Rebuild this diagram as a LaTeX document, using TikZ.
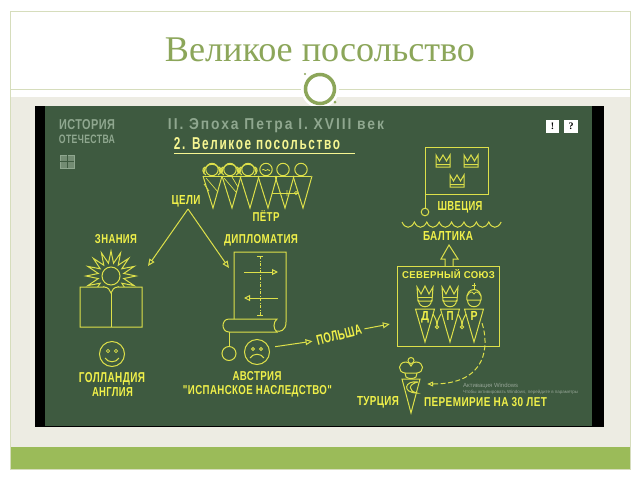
\documentclass[tikz,border=0pt]{standalone}
\usepackage{fontspec}
\usepackage{graphicx}
\setmainfont{Liberation Serif}
\setsansfont{Liberation Sans}
\newfontfamily\lblfont{Liberation Sans}[LetterSpace=4]
\newfontfamily\wideft{Liberation Sans}[LetterSpace=14]
\definecolor{board}{HTML}{3E5A40}
\definecolor{chalk}{HTML}{DDE04A}
\definecolor{txtyel}{HTML}{F0F04A}
\definecolor{txtgray}{HTML}{8FA78F}
\definecolor{olive}{HTML}{8CA65A}
\definecolor{barc}{HTML}{9BBB59}
\definecolor{beige}{HTML}{EDECE3}
\definecolor{framec}{HTML}{D6DDBC}
\newcommand{\fit}[3]{\resizebox{#1pt}{#2pt}{\lblfont\bfseries #3}}
\newcommand{\fitw}[3]{\resizebox{#1pt}{#2pt}{\wideft\bfseries #3}}
\usetikzlibrary{arrows.meta}
\tikzset{
 x=1pt,y=-1pt,
 ln/.style={draw=chalk,line width=1pt},
 lb/.style={inner sep=0pt,text=txtyel},
 gr/.style={inner sep=0pt,text=txtgray},
 tip/.style={-{Triangle[open,length=7pt,width=6pt]},ln},
 crownp/.pic={\draw[ln] (-7,6)--(-7,-6)--(-3.5,0)--(0,-6)--(3.5,0)--(7,-6)--(7,6)--cycle (-7,3.5)--(7,3.5);},
 wig/.pic={\draw[ln] (-8,-2) .. controls (-9,-15) and (9,-15) .. (8,-2) (-6,-1) .. controls (-10,-3) and (-10,-8) .. (-7,-9) (6,-1) .. controls (10,-3) and (10,-8) .. (7,-9);},
}
\begin{document}
\begin{tikzpicture}
\useasboundingbox (0,0) rectangle (640,480);
\fill[white] (0,0) rectangle (640,480);
\fill[beige] (10,97) rectangle (630,447);
\fill[barc] (10,447) rectangle (630,469);
\draw[framec,line width=0.9pt] (10,11) rectangle (630,469);
\draw[framec,line width=0.9pt] (10,89)--(630,89);
\fill[white] (320,89) circle[radius=19];
\draw[olive,line width=3.5pt] (320,89) circle[radius=14.5];
\fill[olive] (305,74) circle[radius=1.2] (335,102) circle[radius=1.5];
\node[text=olive,inner sep=0pt] (title) at (320,50) {\resizebox{310pt}{!}{\fontsize{33}{36}\selectfont Великое посольство}};
% picture
\fill[black] (35,106) rectangle (604,427);
\fill[board] (45,106) rectangle (592,426);
\node[gr] (hist) at (87,124.5) {\fit{56}{10}{ИСТОРИЯ}};
\node[gr] (otech) at (87,139.5) {\fit{56}{8.5}{ОТЕЧЕСТВА}};
\draw[txtgray,fill=txtgray!65!board,line width=0.5pt] (60,155) rectangle (74,168);
\draw[board,line width=0.7pt] (67,155)--(67,168) (60,161.5)--(74,161.5);
\node[gr] (ep) at (276,125.5) {\fitw{216}{11}{II. Эпоха Петра I. XVIII век}};
\node[inner sep=0pt,text=txtyel!60!white] (vp) at (257,144) {\fitw{166}{12}{2. Великое посольство}};
\draw[txtyel!60!white,line width=1.1pt] (174,153.5)--(355,153.5);
\node[fill=white,text=black,inner sep=0pt,minimum width=13pt,minimum height=13pt,font=\bfseries] (ex) at (552.5,126.5) {!};
\node[fill=white,text=black,inner sep=0pt,minimum width=14pt,minimum height=13pt,font=\bfseries] (qu) at (571,126.5) {?};
% Peter's embassy
\draw[ln] (203,176)--(311,176);
\foreach \xh/\xa in {212/213,230/232,248/250,266/268,283/285,301/303}{
 \draw[ln] (\xh,169.5) circle[radius=6.2];
 \draw[ln] (\xa-10,176)--(\xa,208)--(\xa+9,176);
}
\foreach \xh in {212,230,248}{\pic at (\xh,176) {wig};}
\draw[ln,line width=0.7pt] (206,178)--(218,192) (204,184)--(209,191) (224,178)--(236,192) (232,177)--(238,187);
\draw[ln,line width=0.7pt] (262,170) .. controls (264,168) and (265,172) .. (267,170) .. controls (268,168) and (269,172) .. (270,170);
\draw[ln,line width=0.7pt] (272,193)--(298,193);
\draw[ln,line width=0.7pt] (296,193) circle[radius=1.6] (287,190)--(287,196);
\node[lb] (petr) at (266,216) {\fit{27}{11}{ПЁТР}};
\node[lb] (celi) at (186,201.5) {\fit{29}{9}{ЦЕЛИ}};
\coordinate (gs) at (188,209);
\node[lb] (zn) at (116,239.5) {\fit{42}{9}{ЗНАНИЯ}};
\node[lb] (dp) at (261,240.5) {\fit{74}{9}{ДИПЛОМАТИЯ}};
\coordinate (gl) at (148,266);
\coordinate (gr0) at (229,268);
\draw[tip] (gs)--(gl);
\draw[tip] (gs)--(gr0);
% sun and book
\draw[ln] (111,276) circle[radius=9];
\draw[ln] (86,276)
 foreach \a in {0,...,15}{ -- ({111+25*cos(180+\a*22.5)},{276+25*sin(180+\a*22.5)}) -- ({111+13*cos(180+\a*22.5+11.25)},{276+13*sin(180+\a*22.5+11.25)}) } -- cycle;
\fill[board] (70,287) rectangle (150,330);
\draw[ln,fill=board] (80,327)--(80,287)--(104,287) .. controls (108,287) and (110,290) .. (111,293) .. controls (112,290) and (114,287) .. (118,287)--(142,287)--(142,327)--cycle;
\draw[ln] (111,293)--(111,327);
\draw[ln] (112,354) circle[radius=12.5];
\draw[ln,line width=0.8pt] (108,351) circle[radius=1.6] (116,351) circle[radius=1.6];
\draw[ln] (105,358) .. controls (108,363) and (116,363) .. (119,358);
\node[lb] (nl) at (112,378.5) {\fit{66}{10}{ГОЛЛАНДИЯ}};
\node[lb] (en) at (112.5,392.5) {\fit{41}{9}{АНГЛИЯ}};
% scroll
\draw[ln] (234,319)--(234,252)--(286,252)--(286,322) .. controls (286,331) and (280,332) .. (276,331);
\draw[ln] (229,319)--(277,319) .. controls (273,322) and (273,329) .. (277,332)--(229,332) .. controls (221,332) and (221,319) .. (229,319);
\draw[ln] (229,332)--(229,347);
\draw[ln] (229,353.5) circle[radius=7];
\draw[ln,dash pattern=on 3pt off 1.5pt on 1pt off 1.5pt] (260,256)--(260,315);
\draw[ln] (257,256)--(263,256) (257,315)--(263,315);
\draw[-{Triangle[open,length=6pt,width=6pt]},ln] (244,272)--(278,272);
\draw[-{Triangle[open,length=6pt,width=6pt]},ln] (278,298)--(244,298);
\node[draw=chalk,line width=1pt,circle,minimum size=25pt,inner sep=0pt] (sad) at (257,352) {};
\draw[ln,line width=0.8pt] (253,349) circle[radius=1.5] (261,349) circle[radius=1.5];
\draw[ln] (250,358) .. controls (253,353) and (261,353) .. (264,358);
\node[lb] (av) at (257,376) {\fit{49}{9}{АВСТРИЯ}};
\node[lb] (isp) at (257.5,391) {\fit{149}{9}{"ИСПАНСКОЕ НАСЛЕДСТВО"}};
\node[lb,rotate=14] (pol) at (339,335) {\fit{46}{10}{ПОЛЬША}};
\draw[tip,shorten >=4pt,shorten <=6pt] (sad.20)--(pol.west);
% sweden
\node[draw=chalk,line width=1pt,minimum width=63pt,minimum height=47pt,inner sep=0pt] (flag) at (456.5,170.5) {};
\draw[ln] (425,194)--(425,208);
\draw[ln] (425,212) circle[radius=3.8];
\pic at (443,161) {crownp};
\pic at (471,161) {crownp};
\pic at (457,181) {crownp};
\node[lb] (sw) at (460,207) {\fit{45}{9}{ШВЕЦИЯ}};
\draw[ln] (402,222)
 foreach \i in {0,...,7}{ .. controls ({402+\i*12.4+3},{229}) and ({402+\i*12.4+9},{229}) .. ({402+(\i+1)*12.4},{222}) };
\node[lb] (bal) at (448,236.5) {\fit{50}{9}{БАЛТИКА}};
\node[draw=chalk,line width=1pt,minimum width=102pt,minimum height=80pt,inner sep=0pt] (sev) at (448,306) {};
\draw[ln] (445,266)--(445,259)--(441,259)--(449,245)--(458,259)--(453,259)--(453,266);
\node[lb] (st) at (448.5,274.5) {\fit{93}{9}{СЕВЕРНЫЙ СОЮЗ}};
\foreach \x in {425,450,474}{
 \draw[ln] (\x-9.5,309)--(\x+9.5,309)--(\x,342)--cycle;
 \draw[ln] (\x-6.5,300) .. controls (\x-6.5,309) and (\x+6.5,309) .. (\x+6.5,300);
}
\foreach \x in {425,450}{
 \draw[ln] (\x-7,301)--(\x-8,287)--(\x-4,294)--(\x,286)--(\x+4,294)--(\x+8,287)--(\x+7,301)--cycle;
 \draw[ln,line width=0.8pt] (\x-7.3,297.5)--(\x+7.3,297.5);
}
\draw[ln] (467,300) .. controls (465,286) and (483,286) .. (481,300)--cycle;
\draw[ln,line width=0.8pt] (467,296) .. controls (470,291) and (472,291) .. (474,294) .. controls (476,291) and (478,291) .. (481,296);
\draw[ln] (474,283)--(474,290) (472,285.5)--(476,285.5);
\node[lb,anchor=base] (dk) at (425,320) {\fit{8}{9}{Д}};
\node[lb,anchor=base] (pl) at (450,320) {\fit{7}{9}{П}};
\node[lb,anchor=base] (ru) at (474,320) {\fit{7}{9}{Р}};
\draw[ln] (433,314) .. controls (436,319) and (437,322) .. (437,325);
\draw[ln] (441,314) .. controls (438,319) and (437,322) .. (437,325);
\draw[ln] (437,327) circle[radius=1.7];
\draw[ln] (458,314) .. controls (461,319) and (462,322) .. (462,325);
\draw[ln] (466,314) .. controls (463,319) and (462,322) .. (462,325);
\draw[ln] (462,327) circle[radius=1.7];
% turkey
\draw[ln] (402,379)--(420,379)--(411,413)--cycle;
\draw[ln] (405,373)--(406,377) .. controls (408,379) and (414,379) .. (416,377)--(417,373);
\draw[ln] (405,373) .. controls (397,372) and (398,362) .. (406,362) .. controls (408,362) and (410,363) .. (411,366) .. controls (412,363) and (414,362) .. (416,362) .. controls (424,362) and (425,372) .. (417,373)--cycle;
\draw[ln] (411,360.5) circle[radius=3];
\draw[ln] (418,382) .. controls (404,380) and (402,393) .. (417,393) .. controls (408,391) and (408,384) .. (418,382);
\node[inner sep=0pt,minimum size=0pt] (rtri) at (482,323) {};
\node[inner sep=0pt,minimum size=0pt] (ttri) at (427,384) {};
\draw[-{Triangle[open,length=6pt,width=5pt]},ln,dash pattern=on 5pt off 2.5pt] (rtri) .. controls (489,345) and (488,384) .. (ttri);
\node[lb] (tu) at (378,402.5) {\fit{42}{9}{ТУРЦИЯ}};
\node[lb] (per) at (485.5,402.5) {\fit{123}{9}{ПЕРЕМИРИЕ НА 30 ЛЕТ}};
\node[inner sep=0pt,text=board!55!white,anchor=west] (win1) at (463,385.5) {\resizebox{55pt}{!}{\fontsize{6}{7}\selectfont\sffamily Активация Windows}};
\node[inner sep=0pt,text=board!55!white,anchor=west] (win2) at (463,392) {\resizebox{115pt}{!}{\fontsize{6}{7}\selectfont\sffamily Чтобы активировать Windows, перейдите в параметры}};
\node[inner sep=0pt,minimum size=0pt] (polt) at (390,324) {};
\draw[tip,shorten <=3pt] (pol.east)--(polt);
\end{tikzpicture}
\end{document}
